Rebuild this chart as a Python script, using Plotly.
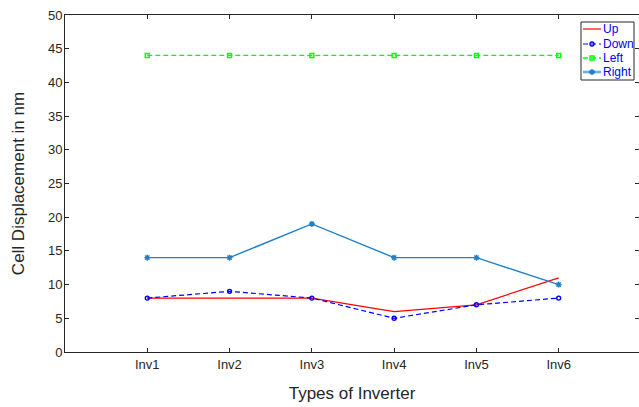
import plotly.graph_objects as go

categories = ["Inv1", "Inv2", "Inv3", "Inv4", "Inv5", "Inv6"]
positions = [1, 2, 3, 4, 5, 6]
up = [8, 8, 8, 6, 7, 11]
down = [8, 9, 8, 5, 7, 8]
left = [44, 44, 44, 44, 44, 44]
right = [14, 14, 19, 14, 14, 10]

series_names = ["Up", "Down", "Left", "Right"]
series_values = [up, down, left, right]
styles = [
    dict(color="#ff0000", dash="solid", width=1.2, symbol=None, size=0),
    dict(color="#0000ff", dash="5px,3px", width=1.2, symbol="circle-open", size=4),
    dict(color="#00ff00", dash="5px,3px", width=1.3, symbol="square-open", size=4),
    dict(color="#1f80c8", dash="solid", width=1.4, symbol="asterisk-open", size=5),
]

font_family = "Liberation Sans, Arial, sans-serif"

fig = go.Figure()
for name, vals, st in zip(series_names, series_values, styles):
    mode = "lines+markers" if st["symbol"] else "lines"
    marker = dict(symbol=st["symbol"], size=st["size"], color=st["color"],
                  line=dict(width=1.4, color=st["color"])) if st["symbol"] else None
    fig.add_trace(go.Scatter(x=positions, y=vals, name=name, mode=mode,
                             line=dict(color=st["color"], width=st["width"], dash=st["dash"]),
                             marker=marker, showlegend=False))

# Hand-built legend box in the top-right corner (plot-fraction coordinates)
L = dict(l=65, r=639, t=15, b=352)


def fx(px):
    return (px - L["l"]) / (L["r"] - L["l"])


def fy(py):
    return (L["b"] - py) / (L["b"] - L["t"])


fig.add_shape(type="rect", xref="x domain", yref="y domain",
              x0=fx(581), x1=fx(634), y0=fy(80), y1=fy(22),
              line=dict(color="#262626", width=1), fillcolor="white", layer="below")

row_y = [29, 44, 58, 72]
for name, st, py in zip(series_names, styles, row_y):
    lw = 2.6 if name == "Right" else st["width"]
    lc = "#6aaede" if name == "Right" else st["color"]
    fig.add_trace(go.Scatter(x=[fx(583), fx(601)], y=[fy(py), fy(py)], mode="lines",
                             line=dict(color=lc, width=lw, dash=st["dash"]),
                             xaxis="x2", yaxis="y2", showlegend=False, hoverinfo="skip"))
    if st["symbol"]:
        fig.add_trace(go.Scatter(x=[fx(592)], y=[fy(py)], mode="markers",
                                 marker=dict(symbol=st["symbol"], size=st["size"], color=st["color"],
                                             line=dict(width=1.4, color=st["color"])),
                                 xaxis="x2", yaxis="y2", showlegend=False, hoverinfo="skip"))
    fig.add_annotation(x=fx(601), y=fy(py), xref="x2", yref="y2", text=name,
                       showarrow=False, xanchor="left", yanchor="middle",
                       font=dict(family=font_family, size=12, color="#0000ff"))

axis_common = dict(showline=True, linecolor="#262626", linewidth=1, mirror="ticks",
                   ticks="inside", ticklen=4, tickcolor="#262626", showgrid=False,
                   zeroline=False, tickfont=dict(family=font_family, size=13, color="#262626"))

fig.update_layout(
    width=639, height=407,
    margin=dict(l=65, r=0, t=15, b=55),
    plot_bgcolor="white", paper_bgcolor="white",
    xaxis=dict(range=[0, 6.976], tickvals=positions, ticktext=categories,
               title=dict(text="Types of Inverter", standoff=16,
                          font=dict(family=font_family, size=17, color="#262626")),
               **axis_common),
    yaxis=dict(range=[0, 50], tickvals=list(range(0, 51, 5)), ticklabelstandoff=-1,
               title=dict(text="Cell Displacement in nm", standoff=18,
                          font=dict(family=font_family, size=17, color="#262626")),
               **axis_common),
    xaxis2=dict(overlaying="x", range=[0, 1], visible=False, anchor="y2"),
    yaxis2=dict(overlaying="y", range=[0, 1], visible=False, anchor="x2"),
    showlegend=False,
)

fig.write_html("out.html")
